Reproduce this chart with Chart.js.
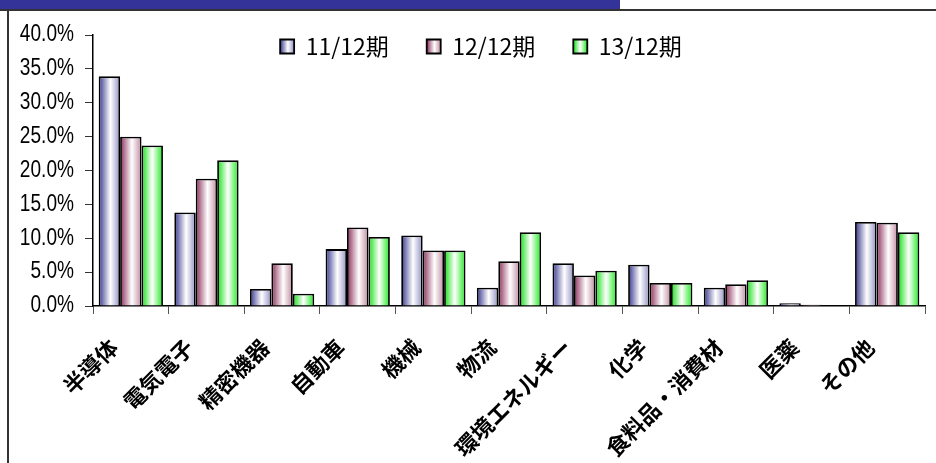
<!DOCTYPE html>
<html>
<head>
<meta charset="utf-8">
<script src="https://cdn.jsdelivr.net/npm/chart.js@4/dist/chart.umd.min.js"></script>
<style>
  html, body { margin: 0; padding: 0; background: #fff; }
  #wrap { width: 936px; height: 463px; }
</style>
</head>
<body>
<div id="wrap"><canvas id="c" width="936" height="463"></canvas></div>
<script>
// Sector breakdown (%) per fiscal period
const categories = ['半導体', '電気電子', '精密機器', '自動車', '機械', '物流', '環境エネルギー', '化学', '食料品・消費材', '医薬', 'その他'];
const seriesNames = ['11/12期', '12/12期', '13/12期'];
const fy11 = [33.9, 13.8, 2.5, 8.4, 10.4, 2.7, 6.3, 6.1, 2.7, 0.4, 12.4];
const fy12 = [25.0, 18.8, 6.3, 11.6, 8.2, 6.6, 4.5, 3.4, 3.2, 0.2, 12.3];
const fy13 = [23.7, 21.5, 1.8, 10.2, 8.2, 10.9, 5.2, 3.4, 3.8, 0, 10.9];
const yTickValues = [0, 5, 10, 15, 20, 25, 30, 35, 40];

// Left-to-right shading of each series' bars
const shades = [
  [[0, '#34348c'], [0.55, '#ffffff'], [1, '#9090c4']],
  [[0, '#8a2c58'], [0.55, '#ffffff'], [1, '#c08aa0']],
  [[0, '#10e010'], [0.5, '#ffffff'], [1, '#1ceb1c']]
];

function hGradient(ctx, left, width, stops) {
  const g = ctx.createLinearGradient(left, 0, left + width, 0);
  stops.forEach(([o, c]) => g.addColorStop(o, c));
  return g;
}

// Page frame: navy strip across the top, thin rule, left border
const frame = {
  id: 'frame',
  beforeDraw(chart) {
    const ctx = chart.ctx;
    ctx.save();
    ctx.fillStyle = '#ffffff';
    ctx.fillRect(0, 0, chart.width, chart.height);
    ctx.fillStyle = '#333399';
    ctx.fillRect(0, 0, 620, 9);
    ctx.strokeStyle = '#333333';
    ctx.lineWidth = 2;
    ctx.beginPath();
    ctx.moveTo(0, 10);
    ctx.lineTo(chart.width, 10);
    ctx.moveTo(8, 10);
    ctx.lineTo(8, chart.height);
    ctx.stroke();
    ctx.restore();
  }
};

// Legend sits inside the plot area, along its top edge
const legendInside = {
  id: 'legendInside',
  afterLayout(chart) {
    const lg = chart.legend;
    const pad = lg.options.labels.padding;
    const dy = chart.chartArea.top - pad - lg.top;
    lg.top += dy;
    lg.bottom = chart.chartArea.top + 40;
    lg.height = lg.bottom - lg.top;
    const dx = 14;
    lg.left += dx;
    lg.right += dx;
  },
  afterUpdate(chart) {
    const lg = chart.legend;
    const bw = lg.options.labels.boxWidth;
    lg.legendItems.forEach((item, i) => {
      const hb = lg.legendHitBoxes[i];
      item.fillStyle = hGradient(chart.ctx, hb.left, bw, shades[i]);
    });
  }
};

// Shade every bar across its own width
const barShading = {
  id: 'barShading',
  beforeDatasetDraw(chart, args) {
    const stops = shades[args.index];
    args.meta.data.forEach(el => {
      const { x, width } = el.getProps(['x', 'width'], true);
      el.options = Object.assign({}, el.options, {
        backgroundColor: hGradient(chart.ctx, x - width / 2, width, stops)
      });
    });
  }
};

const series = [fy11, fy12, fy13];
const baseColors = ['#333399', '#993366', '#00ee00'];

new Chart(document.getElementById('c'), {
  type: 'bar',
  data: {
    labels: categories,
    datasets: series.map((values, i) => ({
      label: seriesNames[i],
      data: values,
      backgroundColor: baseColors[i],
      borderColor: '#000000',
      borderWidth: 1.8,
      borderSkipped: 'bottom',
      categoryPercentage: 0.85,
      barPercentage: 1.0
    }))
  },
  options: {
    responsive: false,
    animation: false,
    devicePixelRatio: 1,
    layout: { padding: { left: 9, right: 11, top: 34, bottom: 0 } },
    plugins: {
      tooltip: { enabled: false },
      legend: {
        position: 'top',
        maxHeight: 1,
        labels: {
          boxWidth: 14,
          boxHeight: 14,
          padding: 38,
          color: '#000000',
          font: { family: "'Noto Sans CJK JP', sans-serif", size: 23 }
        }
      }
    },
    scales: {
      x: {
        border: { display: true, color: '#000000', width: 1.5 },
        grid: { drawOnChartArea: false, drawTicks: true, tickLength: 8, tickColor: '#555555', offset: true },
        ticks: {
          autoSkip: false,
          minRotation: 45,
          maxRotation: 45,
          padding: 20,
          labelOffset: -17,
          color: '#000000',
          font: { family: "'Noto Sans CJK JP', sans-serif", size: 22, weight: 'bold' }
        },
        afterFit(scale) { scale.height = 157; }
      },
      y: {
        min: 0,
        max: 40,
        border: { display: true, color: '#000000', width: 1.5 },
        grid: { drawOnChartArea: false, drawTicks: true, tickLength: 8, tickColor: '#333333' },
        afterBuildTicks(scale) { scale.ticks = yTickValues.map(v => ({ value: v })); },
        ticks: {
          padding: 11,
          color: '#000000',
          font: { family: "'Liberation Sans', sans-serif", size: 23 },
          callback: v => v.toFixed(1) + '%'
        },
        afterFit(scale) { scale.width = 84; },
        // tick labels are set in a narrow face: squeeze them horizontally toward the axis
        afterUpdate(scale) {
          if (scale._narrowLabels) return;
          const drawLabels = scale.drawLabels.bind(scale);
          scale.drawLabels = function (area) {
            const ctx = this.ctx;
            const ax = this.right - this.options.grid.tickLength - this.options.ticks.padding;
            ctx.save();
            ctx.translate(ax, 0);
            ctx.scale(0.83, 1);
            ctx.translate(-ax, 0);
            drawLabels(area);
            ctx.restore();
          };
          scale._narrowLabels = true;
        }
      }
    }
  },
  plugins: [frame, legendInside, barShading]
});
</script>
</body>
</html>
